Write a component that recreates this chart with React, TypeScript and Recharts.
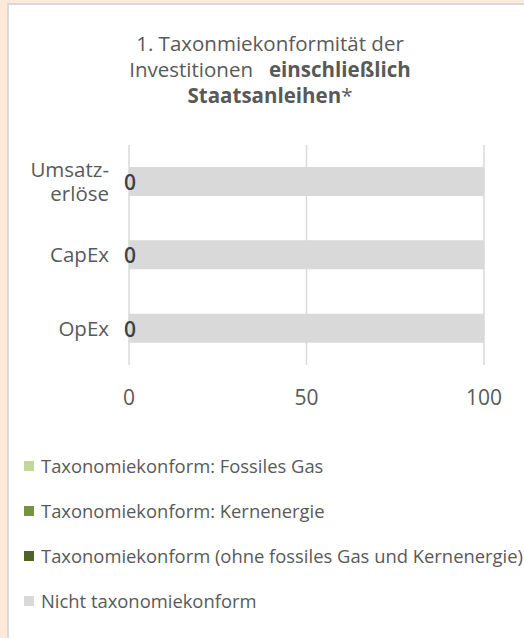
import React from 'react';
import { BarChart, Bar, XAxis, YAxis, CartesianGrid, Legend, LabelList } from 'recharts';

// categories, as printed (line break in the first one)
const categories = ['Umsatz-\nerlöse', 'CapEx', 'OpEx'];
const fossilGas = [0, 0, 0];
const nuclear = [0, 0, 0];
const alignedOther = [0, 0, 0];
const notAligned = [100, 100, 100];
const xTicks = [0, 50, 100];

const seriesNames = [
  'Taxonomiekonform: Fossiles Gas',
  'Taxonomiekonform: Kernenergie',
  'Taxonomiekonform (ohne fossiles Gas und Kernenergie)',
  'Nicht taxonomiekonform',
];

const data = categories.map((name, i) => ({
  name,
  gas: fossilGas[i],
  nuclear: nuclear[i],
  other: alignedOther[i],
  not: notAligned[i],
}));

const FONT = '"Open Sans", "Noto Sans", sans-serif';
const TEXT = '#595959';

const CategoryTick = (props: any) => {
  const { x, y, payload } = props;
  const lines = String(payload.value).split('\n');
  const lh = 24;
  const start = y - ((lines.length - 1) * lh) / 2;
  return (
    <text x={x} y={start} textAnchor="end" fill={TEXT} fontSize={20.5} fontFamily={FONT}>
      {lines.map((l, i) => (
        <tspan key={i} x={x} y={start + i * lh} dy="0.35em">{l}</tspan>
      ))}
    </text>
  );
};

// the "0" label of the zero-width series, drawn where the stack starts
const ZeroLabel = (props: any) => {
  const { x, y, height, value } = props;
  return (
    <text x={x + 1} y={y + height / 2 + 1} dy="0.35em" textAnchor="middle" fill="#404040" fontSize={21} fontWeight={600} fontFamily={FONT}>
      {value}
    </text>
  );
};

const renderLegend = (props: any) => {
  const items = [...props.payload].sort(
    (a: any, b: any) => seriesNames.indexOf(a.value) - seriesNames.indexOf(b.value)
  );
  return (
    <div style={{ fontFamily: FONT }}>
      {items.map((entry: any) => (
        <div key={entry.value} style={{ height: 45, display: 'flex', alignItems: 'center', whiteSpace: 'nowrap' }}>
          <span style={{ width: 10, height: 10, background: entry.color, marginLeft: 15, marginRight: 7, display: 'inline-block' }} />
          <span style={{ fontSize: 18.4, color: TEXT }}>{entry.value}</span>
        </div>
      ))}
    </div>
  );
};

export default function App() {
  return (
    <div style={{ position: 'fixed', left: 0, top: 0, width: 524, height: 638, background: '#FDE9D9', overflow: 'hidden', fontFamily: FONT }}>
      <div style={{ position: 'absolute', left: 7, top: 3, width: 540, height: 660, background: '#fff', borderLeft: '2px solid #D9D9D9', borderTop: '2px solid #D9D9D9' }}>
        <div style={{ position: 'absolute', left: 0, top: 25, width: 522, textAlign: 'center', fontSize: 20.5, lineHeight: '26px', color: TEXT }}>
          1. Taxonmiekonformität der<br />
          Investitionen&nbsp;&nbsp; <b>einschließlich</b><br />
          <b>Staatsanleihen</b>*
        </div>
        <BarChart
          width={522}
          height={630}
          data={data}
          layout="vertical"
          margin={{ top: 140, right: 47, left: 0, bottom: 240 }}
        >
          <CartesianGrid horizontal={false} stroke="#D9D9D9" strokeWidth={1.5} />
          <XAxis
            type="number"
            domain={[0, 100]}
            ticks={xTicks}
            axisLine={false}
            tickLine={false}
            tickMargin={19}
            tick={{ fill: TEXT, fontSize: 21, fontFamily: FONT }}
          />
          <YAxis
            type="category"
            dataKey="name"
            width={120}
            axisLine={false}
            tickLine={false}
            tickMargin={14}
            tick={<CategoryTick />}
          />
          <Legend
            layout="vertical"
            align="center"
            verticalAlign="middle"
            content={renderLegend}
            wrapperStyle={{ left: 0, top: 438, width: 540 }}
          />
          <Bar dataKey="gas" name={seriesNames[0]} stackId="a" fill="#C4D79B" barSize={29} isAnimationActive={false} />
          <Bar dataKey="nuclear" name={seriesNames[1]} stackId="a" fill="#77933C" barSize={29} isAnimationActive={false} />
          <Bar dataKey="other" name={seriesNames[2]} stackId="a" fill="#4F6228" barSize={29} isAnimationActive={false} />
          <Bar dataKey="not" name={seriesNames[3]} stackId="a" fill="#D9D9D9" barSize={29} isAnimationActive={false}>
            <LabelList dataKey="gas" content={<ZeroLabel />} />
          </Bar>
        </BarChart>
      </div>
    </div>
  );
}
